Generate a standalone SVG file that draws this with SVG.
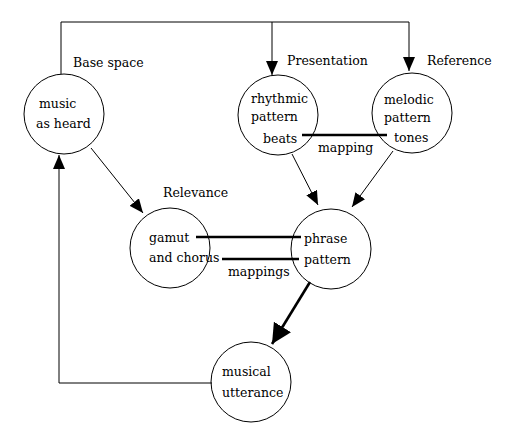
<svg xmlns="http://www.w3.org/2000/svg" width="510" height="437" viewBox="0 0 510 437">
<style>
.n{fill:#fff;stroke:#000;stroke-width:1}
text{font-family:"DejaVu Serif","Liberation Serif",serif;font-size:12.5px;fill:#000}
.c{fill:none;stroke:#000;stroke-width:1}
.m{fill:none;stroke:#000;stroke-width:2.6}
.t{fill:none;stroke:#000;stroke-width:2.6}
</style>
<defs>
<marker id="a" viewBox="0 0 14 12" refX="14" refY="6" markerWidth="14" markerHeight="12" markerUnits="userSpaceOnUse" orient="auto"><path d="M0,0 L14,6 L0,12 z" fill="#000"/></marker>
<marker id="b" viewBox="0 0 20 20" refX="20" refY="10" markerWidth="20" markerHeight="20" markerUnits="userSpaceOnUse" orient="auto"><path d="M0,0 L20,10 L0,20 z" fill="#000"/></marker>
</defs>
<g id="music-as-heard">
<circle class="n" cx="64" cy="114" r="40"/>
<text x="39" y="108">music</text>
<text x="36" y="128">as heard</text>
</g>
<g id="rhythmic-pattern">
<circle class="n" cx="278" cy="115" r="40"/>
<text x="251" y="103">rhythmic</text>
<text x="251" y="121">pattern</text>
<text x="263" y="143">beats</text>
</g>
<g id="melodic-pattern">
<circle class="n" cx="412" cy="113" r="40"/>
<text x="384" y="104">melodic</text>
<text x="384" y="122">pattern</text>
<text x="394" y="142">tones</text>
</g>
<g id="gamut-and-chorus">
<circle class="n" cx="170" cy="248" r="40"/>
<text x="149" y="242">gamut</text>
<text x="149" y="262">and chorus</text>
</g>
<g id="phrase-pattern">
<circle class="n" cx="331" cy="249" r="40"/>
<text x="304" y="243">phrase</text>
<text x="304" y="264">pattern</text>
</g>
<g id="musical-utterance">
<circle class="n" cx="251" cy="382" r="40"/>
<text x="222" y="376">musical</text>
<text x="222" y="397">utterance</text>
</g>
<g id="connectors">
<polyline class="c" points="61,74 61,22 409,22 409,71" marker-end="url(#a)"/>
<line class="c" x1="272" y1="22" x2="272" y2="75" marker-end="url(#a)"/>
<line class="c" x1="91" y1="148" x2="143" y2="213" marker-end="url(#a)"/>
<line class="c" x1="292" y1="154" x2="318" y2="205" marker-end="url(#a)"/>
<line class="c" x1="393" y1="151" x2="352" y2="207" marker-end="url(#a)"/>
<line class="t" x1="310" y1="282" x2="272" y2="344" marker-end="url(#b)"/>
<polyline class="c" points="212,383 59,383 59,155" marker-end="url(#a)"/>
<line class="m" x1="302" y1="135" x2="387" y2="135"/>
<line class="m" x1="196" y1="237" x2="301" y2="237"/>
<line class="m" x1="222" y1="259" x2="299" y2="259"/>
</g>
<g id="labels">
<text x="73" y="67">Base space</text>
<text x="287" y="65">Presentation</text>
<text x="427" y="65">Reference</text>
<text x="163" y="197">Relevance</text>
<text x="318" y="152">mapping</text>
<text x="228" y="276">mappings</text>
</g>
</svg>
